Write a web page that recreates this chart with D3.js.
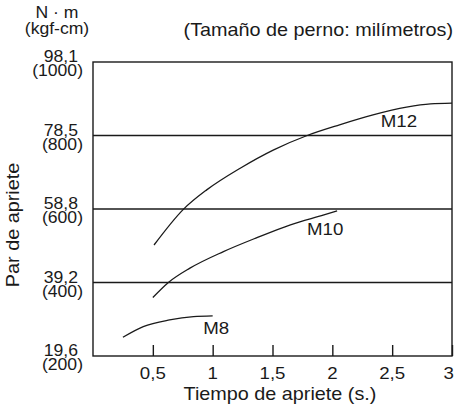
<!DOCTYPE html>
<html><head><meta charset="utf-8">
<script src="https://cdn.jsdelivr.net/npm/d3@7"></script>
<style>body{margin:0;background:#fff}svg{display:block}text{font-family:"Liberation Sans",Arial,sans-serif;fill:#1a1a1a}</style>
</head><body>
<script>
const xTicks = [0.5, 1, 1.5, 2, 2.5, 3];
const xTickLabels = ["0,5", "1", "1,5", "2", "2,5", "3"];
const yTicks = [200, 400, 600, 800, 1000];
const yTickNm = ["19,6", "39,2", "58,8", "78,5", "98,1"];
const yTickKgf = ["(200)", "(400)", "(600)", "(800)", "(1000)"];
const gridValues = [400, 600, 800];

const m8X = [0.25, 0.42, 0.64, 0.84, 1.0];
const m8Y = [251, 280, 298, 307, 309];
const m10X = [0.5, 0.63, 0.81, 1.09, 1.37, 1.65, 1.93, 2.04];
const m10Y = [359, 400, 439, 484, 522, 557, 584, 595];
const m12X = [0.51, 0.755, 0.95, 1.23, 1.51, 1.79, 2.06, 2.34, 2.62, 2.82, 3.0];
const m12Y = [502, 599, 652, 711, 761, 800, 829, 856, 877, 886, 888];
const seriesNames = ["M8", "M10", "M12"];

const W = 455, H = 407;
const SX = 1.1;
const x = d3.scaleLinear().domain([0, 3]).range([93, 452]);
const y = d3.scaleLinear().domain([200, 1000]).range([356, 62]);

const svg = d3.select("body").append("svg").attr("width", W).attr("height", H);
const ink = "#1a1a1a";

function txt(px, py, s, size, anchor) {
  return svg.append("text")
    .attr("transform", `translate(${px},${py}) scale(${SX},1)`)
    .attr("text-anchor", anchor || "start")
    .attr("font-size", size)
    .text(s);
}

// grid lines
svg.selectAll("line.grid").data(gridValues).join("line")
  .attr("x1", x(0)).attr("x2", x(3))
  .attr("y1", d => y(d)).attr("y2", d => y(d))
  .attr("stroke", ink).attr("stroke-width", 1.4);

// frame
svg.append("rect").attr("x", x(0)).attr("y", y(1000))
  .attr("width", x(3) - x(0)).attr("height", y(200) - y(1000))
  .attr("fill", "none").attr("stroke", ink).attr("stroke-width", 1.4);

// x ticks (inward)
const xAxis = d3.axisBottom(x).tickValues(xTicks).tickSizeInner(-11).tickSizeOuter(0)
  .tickFormat((d, i) => xTickLabels[i]);
const gx = svg.append("g").attr("transform", `translate(0,${y(200)})`).call(xAxis);
gx.select(".domain").remove();
gx.selectAll(".tick line").attr("stroke", ink).attr("stroke-width", 1.4);
gx.selectAll(".tick text").remove();
xTicks.forEach((v, i) => {
  const t = txt(x(v), 379, xTickLabels[i], 17, "middle");
  const half = t.node().getBBox().width * SX / 2;
  const cx = Math.min(x(v), W - 1 - half);
  t.attr("transform", `translate(${cx},379) scale(${SX},1)`);
});

// y labels
yTicks.forEach((v, i) => {
  txt(78, y(v) + 0, yTickNm[i], 16, "end");
  txt(83, y(v) + 14, yTickKgf[i], 16, "end");
});

// curves
const line = d3.line().x(d => x(d[0])).y(d => y(d[1])).curve(d3.curveMonotoneX);
[[m8X, m8Y], [m10X, m10Y], [m12X, m12Y]].forEach(([xs, ys]) => {
  svg.append("path").datum(xs.map((v, i) => [v, ys[i]]))
    .attr("d", line).attr("fill", "none").attr("stroke", ink).attr("stroke-width", 1.3);
});

// series labels
txt(x(1.03), y(260), seriesNames[0], 17, "middle");
txt(x(1.94), y(529), seriesNames[1], 17, "middle");
txt(x(2.557), y(823), seriesNames[2], 17, "middle");

// titles
txt(280, 400, "Tiempo de apriete (s.)", 18, "middle");
txt(453, 36, "(Tamaño de perno: milímetros)", 18, "end");
txt(57, 18, "N · m", 16, "middle");
txt(57, 34, "(kgf-cm)", 16, "middle");
svg.append("text")
  .attr("transform", `translate(19,225) rotate(-90) scale(${SX},1)`)
  .attr("text-anchor", "middle").attr("font-size", 18).text("Par de apriete");
</script>
</body></html>
